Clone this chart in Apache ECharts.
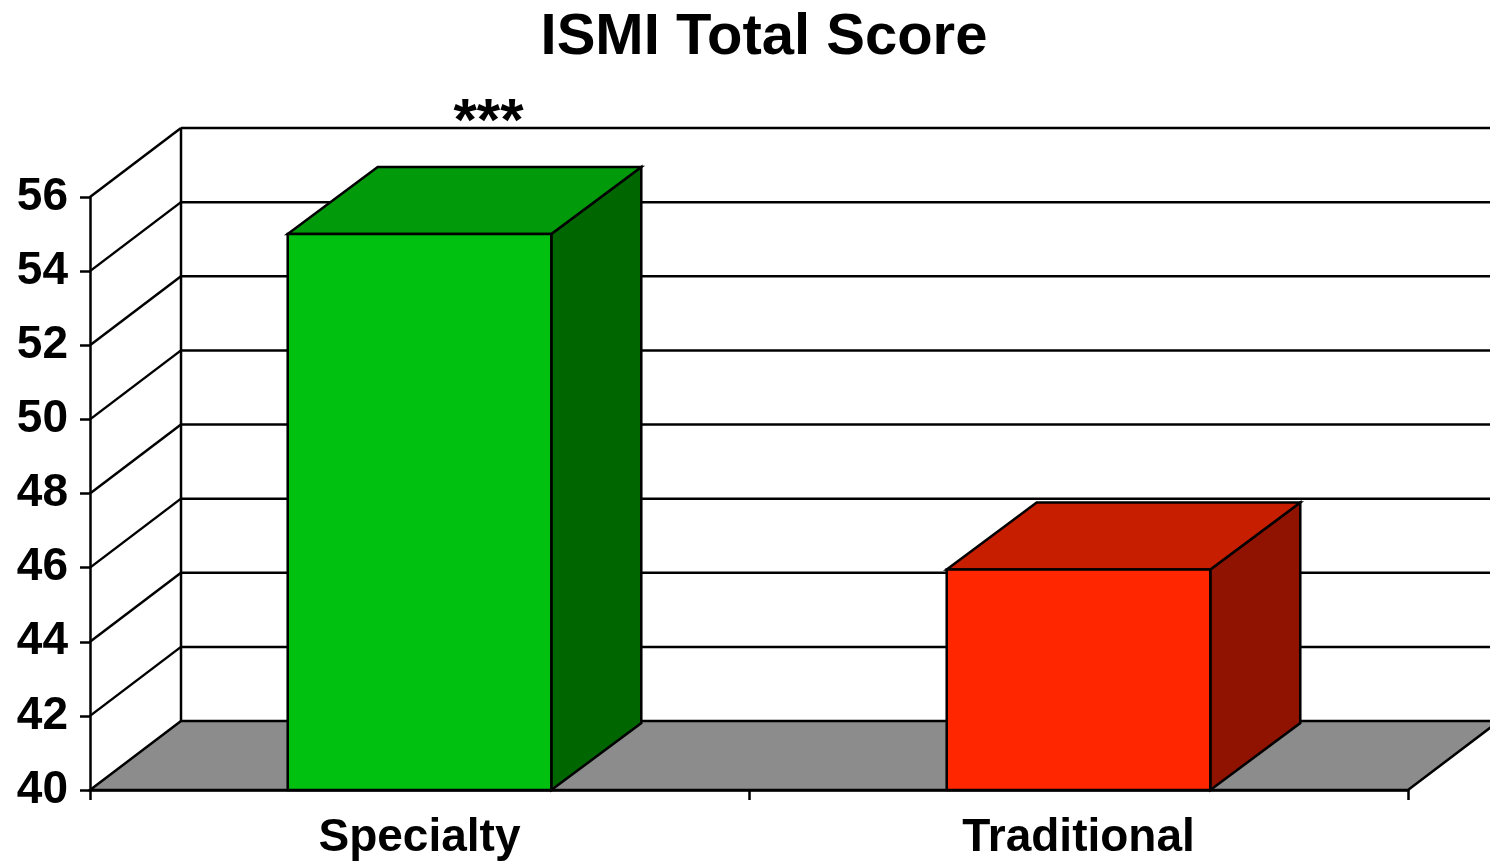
<!DOCTYPE html>
<html><head><meta charset="utf-8">
<script src="https://cdn.jsdelivr.net/npm/echarts@6/dist/echarts.min.js"></script>
<style>html,body{margin:0;padding:0;background:#fff}#c{width:1490px;height:861px}</style>
</head><body><div id="c"></div>
<script>
const chartTitle = 'ISMI Total Score';
const categories = ['Specialty', 'Traditional'];
const scores = [55.0, 45.95];
const significance = ['***', ''];
const yTicks = [40, 42, 44, 46, 48, 50, 52, 54, 56];

const FONT = '"Liberation Sans", Arial, Helvetica, sans-serif';
const WDX = 91, WDY = -69;   // wall depth
const BDX = 90, BDY = -67;   // bar depth
const LW = 2.5;
const faceColors = [
  {front: '#00C010', top: '#009A0A', side: '#006600'},
  {front: '#FF2600', top: '#C81E00', side: '#901200'}
];
const yMin = yTicks[0], yMax = yTicks[yTicks.length - 1];

const chart = echarts.init(document.getElementById('c'), null, {renderer: 'canvas'});

function frameItem(params, api) {
  const cs = params.coordSys;
  const v = api.value(1);
  const y = api.coord([0, v])[1];
  const yb = api.coord([0, yMin])[1];
  const x0 = cs.x, x1 = cs.x + cs.width;
  const st = {stroke: '#000', lineWidth: LW};
  const children = [];
  if (v === yMin) {
    children.push({type: 'polygon', shape: {points: [[x0, y], [x1, y], [x1 + WDX, y + WDY], [x0 + WDX, y + WDY]]},
      style: {fill: '#8C8C8C', stroke: '#000', lineWidth: LW, lineJoin: 'miter'}});
  } else {
    children.push({type: 'line', shape: {x1: x0, y1: y, x2: x0 + WDX, y2: y + WDY}, style: st});
    children.push({type: 'line', shape: {x1: x0 + WDX, y1: y + WDY, x2: x1 + WDX, y2: y + WDY}, style: st});
  }
  if (v === yMax) {
    children.push({type: 'line', shape: {x1: x0 + WDX, y1: y + WDY, x2: x0 + WDX, y2: yb + WDY}, style: st});
  }
  return {type: 'group', children};
}

function barItem(params, api) {
  const idx = api.value(0), val = api.value(1);
  const top = api.coord([idx, val]);
  const base = api.coord([idx, yMin]);
  const w = api.size([1, 0])[0] * 0.4;
  const L = top[0] - w / 2, R = top[0] + w / 2;
  const c = faceColors[idx];
  const st = {stroke: '#000', lineWidth: LW, lineJoin: 'miter'};
  const children = [
    {type: 'polygon', shape: {points: [[R, top[1]], [R + BDX, top[1] + BDY], [R + BDX, base[1] + BDY], [R, base[1]]]},
      style: Object.assign({fill: c.side}, st)},
    {type: 'polygon', shape: {points: [[L, top[1]], [R, top[1]], [R + BDX, top[1] + BDY], [L + BDX, top[1] + BDY]]},
      style: Object.assign({fill: c.top}, st)},
    {type: 'rect', shape: {x: L, y: top[1], width: w, height: base[1] - top[1]},
      style: Object.assign({fill: c.front}, st)}
  ];
  if (significance[idx]) {
    children.push({type: 'text', style: {text: significance[idx], x: top[0] + 69, y: top[1] + BDY - 44,
      align: 'center', verticalAlign: 'middle', fill: '#000', font: 'bold 60px ' + FONT}});
  }
  return {type: 'group', children};
}

const axisLineStyle = {color: '#000', width: LW};

chart.setOption({
  animation: false,
  backgroundColor: '#fff',
  title: {
    text: chartTitle, left: 759, top: 4, textAlign: 'center',
    textStyle: {fontFamily: FONT, fontWeight: 'bold', fontSize: 58, color: '#000'}
  },
  grid: {left: 90, right: 82, top: 197, bottom: 71, containLabel: false},
  xAxis: {
    type: 'category', data: categories, boundaryGap: true,
    axisLine: {show: true, lineStyle: axisLineStyle},
    axisTick: {show: true, length: 10, lineStyle: axisLineStyle},
    axisLabel: {fontFamily: FONT, fontWeight: 'bold', fontSize: 46, color: '#000', margin: 25},
    splitLine: {show: false}
  },
  yAxis: {
    type: 'value', min: yMin, max: yMax, interval: 2,
    axisLine: {show: true, lineStyle: axisLineStyle},
    axisTick: {show: true, length: 10, lineStyle: axisLineStyle},
    axisLabel: {fontFamily: FONT, fontWeight: 'bold', fontSize: 46, color: '#000', margin: 22},
    splitLine: {show: false}
  },
  series: [
    {type: 'custom', name: 'frame', z: 1, clip: false, silent: true,
      renderItem: frameItem, data: yTicks.map(v => [0, v])},
    {type: 'custom', name: 'bars', z: 3, clip: false,
      renderItem: barItem, data: categories.map((c, i) => [i, scores[i]])}
  ]
});
</script>
</body></html>
